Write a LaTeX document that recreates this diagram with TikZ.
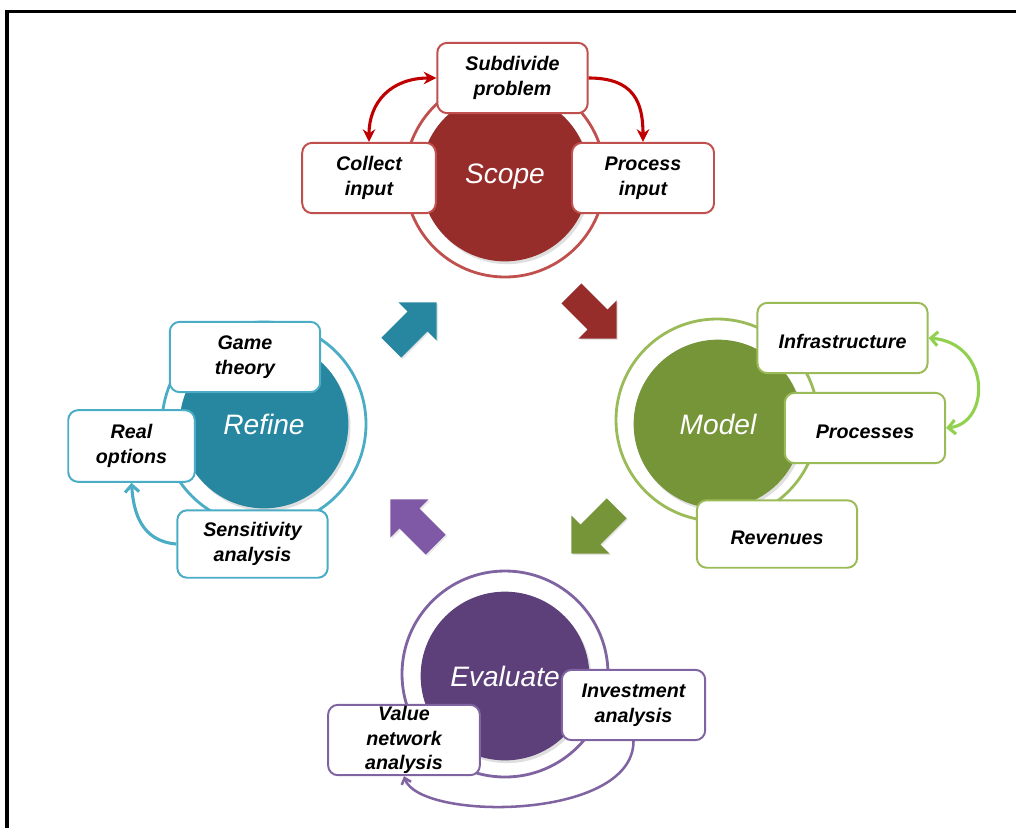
\documentclass[tikz,border=0pt]{standalone}
\usepackage{fontspec}
\setsansfont{Liberation Sans}
\usetikzlibrary{arrows.meta,shadows}

\definecolor{scopefill}{RGB}{150,45,43}
\definecolor{scopeline}{RGB}{192,80,77}
\definecolor{scopeloop}{RGB}{192,0,0}
\definecolor{modelfill}{RGB}{118,148,56}
\definecolor{modelline}{RGB}{155,187,89}
\definecolor{modelloop}{RGB}{146,208,80}
\definecolor{refinefill}{RGB}{39,135,160}
\definecolor{refineline}{RGB}{75,172,198}
\definecolor{evalfill}{RGB}{93,64,122}
\definecolor{evalline}{RGB}{128,100,162}
\definecolor{evalarrow}{RGB}{127,88,166}

\tikzset{
  hub/.style={circle, fill=#1, minimum size=120pt, inner sep=0pt, text=white,
    font=\sffamily\itshape\fontsize{20}{24}\selectfont,
    drop shadow={opacity=0.25, shadow xshift=1.5pt, shadow yshift=-2pt}},
  ring/.style={draw=#1, line width=2pt},
  task/.style={draw=#1, line width=1.4pt, fill=white, rounded corners=7pt,
    align=center, inner sep=1pt, minimum height=50pt,
    execute at begin node={\rule{0pt}{15pt}},
    font=\sffamily\bfseries\itshape\fontsize{14}{17.5}\selectfont},
  loop/.style={draw=#1, line width=2.2pt}
}

\begin{document}
\begin{tikzpicture}[x=0.25mm, y=-0.25mm]
    \useasboundingbox (0,0) rectangle (1016,828);

    % Frame
    \draw[line width=2.2pt] (7,828) -- (7,11.5) -- (1016,11.5);

    % Rings behind the hubs
    \draw[ring=scopeline] (505,177) circle (100);
    \draw[ring=modelline] (717,420) circle (101);
    \draw[ring=refineline] (264,424) circle (102);
    \draw[ring=evalline] (505,674) circle (103);

    % Hubs
    \node[hub=scopefill] (scope) at (505,177) {Scope};
    \node[hub=modelfill] (model) at (718,424) {Model};
    \node[hub=refinefill] (refine) at (264,424) {Refine};
    \node[hub=evalfill] (evaluate) at (505,676) {Evaluate};

    % Fat arrows between the hubs
    \foreach \cx/\cy/\ang/\col in {594/316/-45/scopefill, 594/531/-135/modelfill,
                                   413/522/135/evalarrow, 414/325/45/refinefill}
    {
      \begin{scope}[shift={(\cx,\cy)}, rotate=\ang]
        \fill[\col, drop shadow={opacity=0.2, shadow xshift=1pt, shadow yshift=-1pt}]
          (-32,-14) -- (5,-14) -- (5,-27) -- (32,0) -- (5,27) -- (5,14) -- (-32,14) -- cycle;
      \end{scope}
    }

    % Scope tasks
    \node[task=scopeline, minimum width=107pt] (sub) at (512.5,78) {Subdivide\\problem};
    \node[task=scopeline, minimum width=95pt] (col) at (369,178) {Collect\\input};
    \node[task=scopeline, minimum width=101pt] (pro) at (643,178) {Process\\input};

    % Model tasks
    \node[task=modelline, minimum width=121pt] (inf) at (842.5,338) {Infrastructure};
    \node[task=modelline, minimum width=114pt] (prc) at (865,428) {Processes};
    \node[task=modelline, minimum width=114pt, minimum height=48pt] (rev) at (777,534) {Revenues};

    % Refine tasks
    \node[task=refineline, minimum width=107pt] (gam) at (245,357) {Game\\theory};
    \node[task=refineline, minimum width=90pt, minimum height=51pt] (rea) at (131.5,446) {Real\\options};
    \node[task=refineline, minimum width=107pt, minimum height=48pt] (sen) at (252.5,544) {Sensitivity\\analysis};

    % Evaluate tasks
    \node[task=evalline, minimum width=102pt] (inv) at (633.5,705) {Investment\\analysis};
    \node[task=evalline, minimum width=108pt] (val) at (404,740) {Value\\network\\analysis};

    % Loops between the tasks
    \draw[loop=scopeloop, {Stealth[length=9pt,width=9pt]}-{Stealth[length=9pt,width=9pt]}]
      (sub.west) .. controls +(-45,0) and +(0,-40) .. (col.north);
    \draw[loop=scopeloop, -{Stealth[length=9pt,width=9pt]}]
      (sub.east) .. controls +(45,0) and +(0,-40) .. (pro.north);
    \draw[loop=modelloop, {Straight Barb[length=5pt,width=10pt]}-{Straight Barb[length=5pt,width=10pt]}]
      (inf.east) .. controls +(62,5) and +(45,-5) .. (prc.east);
    \draw[loop=refineline, -{Straight Barb[length=5pt,width=10pt]}]
      (sen.west) .. controls +(-35,-3) and +(2,30) .. (rea.south);
    \draw[loop=evalline, line width=1.8pt, -{Straight Barb[length=4pt,width=7pt]}]
      (inv.south) .. controls +(0,80) and +(15,45) .. (val.south);
\end{tikzpicture}
\end{document}
